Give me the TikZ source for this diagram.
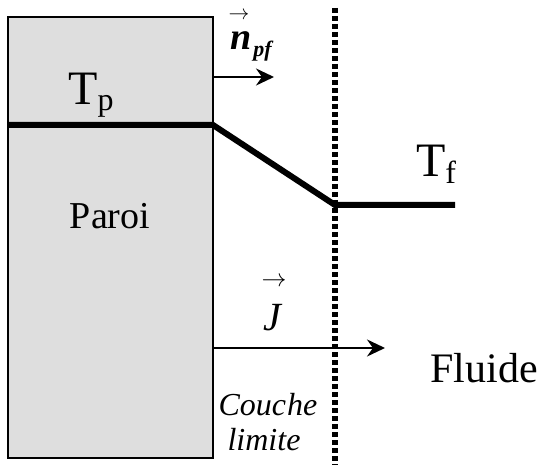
\documentclass[tikz,border=0pt]{standalone}
\usepackage{fontspec}
\setmainfont{Liberation Serif}
\usetikzlibrary{arrows.meta}
\tikzset{
  flux/.style={line width=2.5pt,-{Stealth[length=18pt,width=17pt,inset=6pt]}},
  profil/.style={line width=6pt},
  lbl/.style={inner sep=0pt},
}
\begin{document}
\begin{tikzpicture}[x=1pt,y=-1pt]
  \useasboundingbox (0,0) rectangle (538,465);
  % paroi
  \draw[line width=2.2pt, fill=black!13] (8,17) rectangle (213,458);
  % couche limite
  \draw[line width=6pt, dash pattern=on 5pt off 3pt] (335,8) -- (335,465);
  % profil de temperature
  \coordinate (p0) at (8,125);
  \coordinate (p1) at (213,125);
  \coordinate (p2) at (335,205);
  \coordinate (p3) at (455,205);
  \draw[profil] (p0) -- (p1) -- (p2) -- (p3);
  % vecteurs
  \coordinate (n0) at (213,77);
  \coordinate (n1) at (274,77);
  \draw[flux] (n0) -- (n1);
  \coordinate (j0) at (213,348);
  \coordinate (j1) at (385,348);
  \draw[flux] (j0) -- (j1);
  % textes
  \node[lbl] (Tp) at (91,95) {\fontsize{48}{48}\selectfont T\raisebox{-0.3ex}{\fontsize{32}{32}\selectfont p}};
  \node[lbl] (Tf) at (436,164) {\fontsize{48}{48}\selectfont T\raisebox{-0.3ex}{\fontsize{32}{32}\selectfont f}};
  \node[lbl] (paroi) at (110,216) {\fontsize{38}{38}\selectfont Paroi};
  \node[lbl] (fluide) at (484,368) {\fontsize{42}{42}\selectfont Fluide};
  \node[lbl] (npf) at (251,46) {\fontsize{38}{38}\selectfont\bfseries\itshape n\kern2pt\raisebox{-0.4ex}{\fontsize{22}{22}\selectfont pf}};
  \node[lbl] (npfv) at (239,16) {\fontsize{20}{20}\selectfont$\rightarrow$};
  \node[lbl] (J) at (272,318) {\fontsize{40}{40}\selectfont\itshape J};
  \node[lbl] (Jv) at (274,282) {\fontsize{28}{28}\selectfont$\rightarrow$};
  \node[lbl] (couche) at (268,405) {\fontsize{32}{32}\selectfont\itshape Couc\kern1pt he};
  \node[lbl] (limite) at (264,440) {\fontsize{32}{32}\selectfont\itshape limite};
\end{tikzpicture}
\end{document}
